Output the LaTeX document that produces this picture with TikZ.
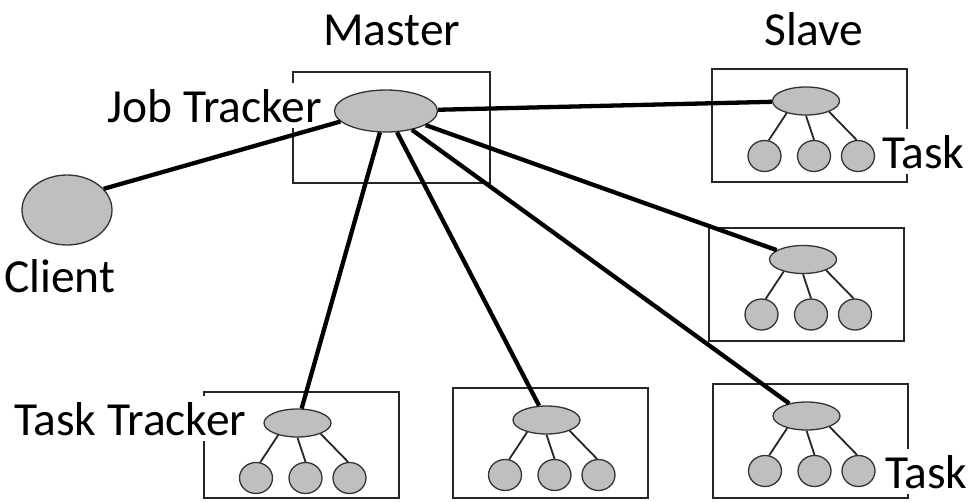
\documentclass[tikz,border=0pt]{standalone}
\usepackage{fontspec}
\setmainfont{Carlito}
\usetikzlibrary{shapes.geometric}
\tikzset{
  frame/.style={draw=black!85, line width=1.6pt},
  lbl/.style={anchor=base west, inner sep=0pt, font=\fontsize{47.5}{56}\selectfont},
  cutlbl/.style={lbl, fill=white, inner xsep=2pt, inner ysep=6pt},
  blob/.style={ellipse, draw=black!80, line width=1.3pt, fill=black!25, inner sep=0pt},
  parent/.style={blob, minimum width=67pt, minimum height=28pt},
  kid/.style={blob, minimum width=33pt, minimum height=31pt},
  link/.style={draw=black, line width=4.3pt},
  twig/.style={draw=black!85, line width=1.8pt}
}
\newcommand{\mktree}[3]{%
  \begin{scope}[shift={(#2,#3)}]
    \node[parent] (#1) at (0,0) {};
    \node[kid] (#1a) at (-41.5,55) {};
    \node[kid] (#1b) at (8,55) {};
    \node[kid] (#1c) at (52,55) {};
  \end{scope}
  \draw[twig] (#1.212) -- (#1a.75);
  \draw[twig] (#1.270) -- (#1b.90);
  \draw[twig] (#1.335) -- (#1c.95);
}
\begin{document}
\begin{tikzpicture}[x=1pt, y=-1pt]
\useasboundingbox (0,0) rectangle (975,501);
% frames
\draw[frame] (293,72) rectangle (490,183);
\draw[frame] (712,69) rectangle (907,182);
\draw[frame] (709,228) rectangle (904,341);
\draw[frame] (713,384) rectangle (908,498);
\draw[frame] (204,392) rectangle (399,498);
\draw[frame] (453,388) rectangle (648,498);
% labels
\node[lbl] (tmaster) at (323,45) {Master};
\node[lbl] (tslave) at (764,45) {Slave};
\node[cutlbl] (tjob) at (105,122) {Job Tracker};
\node[lbl] (tclient) at (4,292) {Client};
\node[cutlbl] (ttt) at (12,435) {Task Tracker};
\node[cutlbl] (ttask1) at (880,168) {Task};
\node[cutlbl] (ttask2) at (883,488) {Task};
% nodes
\node[blob, minimum width=90pt, minimum height=70pt] (client) at (67,210) {};
\node[blob, minimum width=103pt, minimum height=42pt] (jt) at (386,111) {};
\mktree{sa}{806}{101}
\mktree{sb}{803}{259.5}
\mktree{sc}{806.5}{416}
\mktree{ba}{297.5}{423}
\mktree{bb}{546.5}{420}
% connectors
\draw[link] (client.30) -- (jt.193);
\draw[link] (jt) -- (sa);
\draw[link] (jt) -- (sb);
\draw[link] (jt) -- (sc);
\draw[link] (jt) -- (ba);
\draw[link] (jt) -- (bb);
\end{tikzpicture}
\end{document}
